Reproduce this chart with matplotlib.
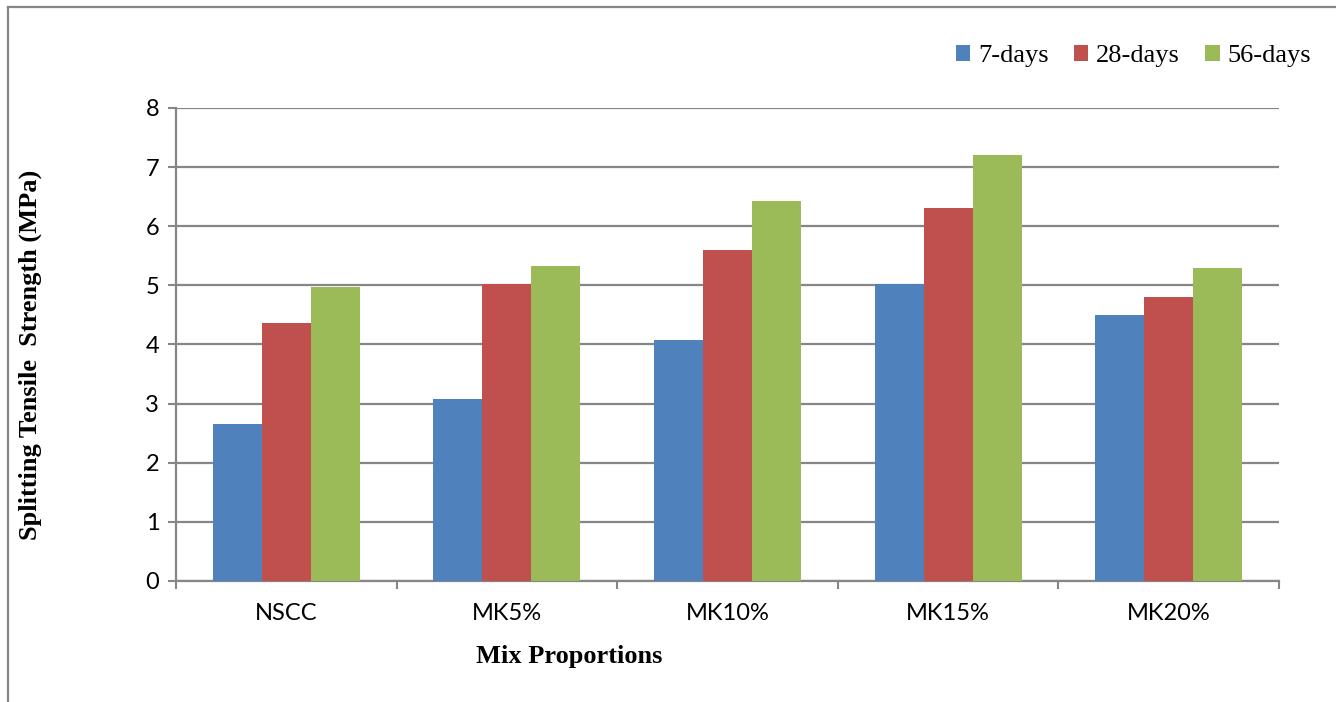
import numpy as np
import matplotlib.pyplot as plt
from matplotlib.lines import Line2D

categories = ['NSCC', 'MK5%', 'MK10%', 'MK15%', 'MK20%']
days7 = [2.66, 3.08, 4.07, 5.03, 4.49]
days28 = [4.36, 5.03, 5.60, 6.30, 4.80]
days56 = [4.97, 5.33, 6.43, 7.20, 5.30]
series_names = ['7-days', '28-days', '56-days']
colors = ['#4F81BD', '#C0504D', '#9BBB59']
yticks = [0, 1, 2, 3, 4, 5, 6, 7, 8]

grey = '#868686'

fig = plt.figure(figsize=(13.36, 7.02), dpi=100)
ax = fig.add_axes([0.1317, 0.1724, 0.9573 - 0.1317, 0.8462 - 0.1724])

x = np.arange(len(categories))
w = 0.222
for i, vals in enumerate([days7, days28, days56]):
    ax.bar(x + (i - 1) * w, vals, width=w, color=colors[i],
           label=series_names[i], zorder=3, linewidth=0)

ax.set_xlim(-0.5, len(categories) - 0.5)
ax.set_ylim(0, 8)
ax.set_yticks(yticks)
ax.yaxis.grid(True, color=grey, linewidth=1.6, zorder=0)
ax.set_axisbelow(True)

# category labels at centres, tick marks between groups
ax.set_xticks(x)
ax.set_xticklabels(categories, fontfamily='Lato', fontsize=17)
ax.set_xticks(np.arange(-0.5, len(categories)), minor=True)
ax.tick_params(axis='x', which='major', length=0, pad=16)
ax.tick_params(axis='x', which='minor', length=6, width=1.5, color=grey, direction='out')
ax.tick_params(axis='y', length=6, width=1.5, color=grey, direction='out', pad=6)
for lbl in ax.get_yticklabels():
    lbl.set_fontfamily('Lato')
    lbl.set_fontsize(17)

for s in ['top', 'right']:
    ax.spines[s].set_visible(False)
for s in ['left', 'bottom']:
    ax.spines[s].set_color(grey)
    ax.spines[s].set_linewidth(1.6)

fig.text(569 / 1336, 1 - 657 / 702, 'Mix Proportions', ha='center', va='center',
         fontfamily='Liberation Serif', fontweight='bold', fontsize=19)
fig.text(30 / 1336, 1 - 355 / 702, 'Splitting Tensile  Strength (MPa)', rotation=90,
         ha='center', va='center', fontfamily='Liberation Serif',
         fontweight='bold', fontsize=19)

ax.legend(loc='upper right', bbox_to_anchor=(1335 / 1336, 1 - 21 / 702),
          bbox_transform=fig.transFigure, ncol=3, frameon=False,
          prop={'family': 'Liberation Serif', 'size': 19},
          handlelength=0.55, handleheight=0.55, handletextpad=0.3,
          columnspacing=0.95)

# outer frame (top and left edges)
fig.add_artist(Line2D([8 / 1336, 1.0], [1 - 7 / 702, 1 - 7 / 702],
                      transform=fig.transFigure, color=grey, linewidth=1.6))
fig.add_artist(Line2D([8 / 1336, 8 / 1336], [0.0, 1 - 7 / 702],
                      transform=fig.transFigure, color=grey, linewidth=1.6))

fig.savefig('out.png', dpi=100)
